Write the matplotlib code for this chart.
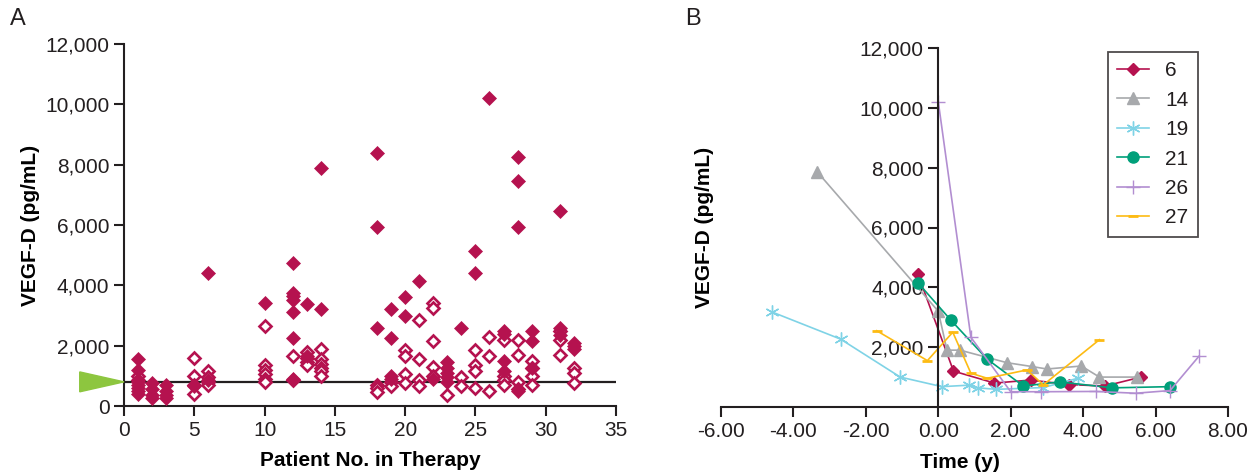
import numpy as np
import matplotlib
matplotlib.use("Agg")
import matplotlib.pyplot as plt
from matplotlib.ticker import FuncFormatter
from matplotlib.patches import Polygon

plt.rcParams['font.family'] = ['Liberation Sans', 'DejaVu Sans']
TEXT = "#231f20"
plt.rcParams['text.color'] = TEXT
plt.rcParams['axes.edgecolor'] = TEXT
plt.rcParams['xtick.color'] = TEXT
plt.rcParams['ytick.color'] = TEXT

# panel A: patient number vs VEGF-D, filled and open diamonds
filled_patient = [1, 1, 1, 1, 1, 1, 1, 2, 2, 2, 2, 3, 3, 3, 3, 5, 6, 6, 10,
                  12, 12, 12, 12, 12, 12, 12, 13, 13, 14, 14, 18, 18, 18,
                  19, 19, 19, 19, 20, 20, 21, 22, 23, 23, 23, 23, 23, 24,
                  25, 25, 26, 27, 27, 27, 27, 28, 28, 28, 28, 29, 29, 29,
                  31, 31, 31, 32, 32, 32]
filled_value = [1550, 1200, 800, 700, 600, 500, 400, 750, 550, 350, 250,
                700, 500, 350, 250, 650, 4400, 850, 3400,
                4750, 3750, 3650, 3500, 3100, 2250, 900, 3380, 1650, 7900, 3220,
                8400, 5950, 2600, 3200, 2250, 1000, 900, 3600, 3000, 4150, 900,
                1450, 1250, 1100, 950, 800, 2600, 5150, 4400, 10200,
                2500, 2400, 1500, 1150, 8250, 7450, 5950, 500, 2500, 2150, 1250,
                6450, 2600, 2350, 2100, 2000, 1900]

open_patient = [1, 1, 5, 5, 5, 5, 6, 6, 6, 6, 10, 10, 10, 10, 10, 10,
                12, 12, 13, 13, 13, 13, 14, 14, 14, 14, 14, 14, 18, 18, 18,
                19, 19, 20, 20, 20, 20, 21, 21, 21, 21, 22, 22, 22, 22, 22,
                23, 24, 24, 25, 25, 25, 25, 26, 26, 26, 27, 27, 27, 27,
                28, 28, 28, 28, 29, 29, 29, 29, 31, 31, 31, 32, 32, 32]
open_value = [1000, 850, 1600, 1000, 700, 400, 1150, 950, 800, 700,
              2650, 1350, 1200, 1050, 900, 800, 1650, 850, 1800, 1600, 1450, 1350,
              1900, 1550, 1400, 1250, 1150, 1000, 700, 600, 450, 800, 650,
              1850, 1650, 1050, 750, 2850, 1550, 850, 650, 3400, 3250, 2150, 1300, 1000,
              350, 950, 650, 1850, 1350, 1150, 600, 2300, 1650, 500,
              2200, 1000, 850, 700, 2200, 1700, 800, 550, 1500, 1250, 1000, 700,
              2500, 2200, 1700, 1250, 1100, 750]

threshold = 800

# panel B: time courses per patient
patients = ["6", "14", "19", "21", "26", "27"]
time_6 = [-0.56, 0.42, 1.55, 2.55, 3.6, 4.6, 5.6]
vegf_6 = [4430, 1200, 800, 900, 750, 700, 1000]
time_14 = [-3.35, 0.0, 0.24, 0.6, 1.9, 2.6, 3.0, 3.95, 4.45, 5.5]
vegf_14 = [7870, 3200, 1900, 1900, 1480, 1350, 1270, 1370, 1000, 1000]
time_19 = [-4.6, -2.7, -1.05, 0.1, 0.85, 1.1, 1.6, 2.9, 3.85]
vegf_19 = [3180, 2270, 1000, 680, 730, 640, 590, 650, 960]
time_21 = [-0.56, 0.35, 1.35, 2.35, 3.35, 4.8, 6.4]
vegf_21 = [4150, 2900, 1600, 700, 840, 640, 680]
time_26 = [0.0, 0.9, 2.0, 2.85, 4.35, 5.45, 6.4, 7.2]
vegf_26 = [10200, 2330, 510, 510, 520, 460, 550, 1700]
time_27 = [-1.7, -0.3, 0.4, 0.9, 1.35, 2.45, 2.9, 4.45]
vegf_27 = [2550, 1550, 2500, 1130, 960, 1240, 740, 2250]

CRIMSON = "#b5124f"

fig = plt.figure(figsize=(12.59, 4.74), dpi=100)
axA = fig.add_axes([124 / 1259, 1 - 406 / 474, 492 / 1259, 362 / 474])
axB = fig.add_axes([721 / 1259, 1 - 407 / 474, 507 / 1259, 359 / 474])

comma = FuncFormatter(lambda v, p: "{:,.0f}".format(v))

# ---- A ----
axA.plot(open_patient, open_value, linestyle="none", marker="D", ms=6.6,
         mfc="white", mec=CRIMSON, mew=1.9, zorder=3)
axA.plot(filled_patient, filled_value, linestyle="none", marker="D", ms=7,
         mfc=CRIMSON, mec=CRIMSON, mew=0.5, zorder=4)
axA.plot([0, 35], [threshold, threshold], color=TEXT, lw=1.6, zorder=2)
tri = Polygon([[-0.09, threshold + 330], [-0.09, threshold - 330], [0, threshold]],
              closed=True, transform=axA.get_yaxis_transform(), clip_on=False,
              color="#8dc63f", zorder=5)
axA.add_patch(tri)

axA.set_xlim(0, 35)
axA.set_ylim(0, 12000)
axA.set_xticks(np.arange(0, 36, 5))
axA.set_yticks(np.arange(0, 12001, 2000))
axA.yaxis.set_major_formatter(comma)
axA.set_xlabel("Patient No. in Therapy", fontsize=15, fontweight="bold")
axA.set_ylabel("VEGF-D (pg/mL)", fontsize=15, fontweight="bold")
axA.xaxis.set_label_coords(0.5, -0.125)
axA.yaxis.set_label_coords(-0.17, 0.5)

# ---- B ----
series = [
    (time_6, vegf_6, CRIMSON, "D", 6.5, 1.0),
    (time_14, vegf_14, "#a7a9ac", "^", 9, 1.0),
    (time_19, vegf_19, "#7fd3e6", (6, 2, 0), 10, 1.0),
    (time_21, vegf_21, "#00a07a", "o", 8, 1.0),
    (time_26, vegf_26, "#b28ed1", "+", 10, 1.0),
    (time_27, vegf_27, "#fdbb13", "_", 7, 2.0),
]
for (t, v, c, m, s, mw), name in zip(series, patients):
    axB.plot(t, v, color=c, lw=1.2, marker=m, ms=s, mfc=c, mec=c, mew=mw,
             label=name, clip_on=False)

axB.set_xlim(-6, 8)
axB.set_ylim(0, 12000)
axB.set_xticks(np.arange(-6, 8.1, 2))
axB.set_yticks(np.arange(2000, 12001, 2000))
axB.xaxis.set_major_formatter(FuncFormatter(lambda v, p: "{:.2f}".format(v)))
axB.yaxis.set_major_formatter(comma)
axB.spines["left"].set_position(("data", 0))
axB.set_xlabel("Time (y)", fontsize=15, fontweight="bold")
axB.set_ylabel("VEGF-D (pg/mL)", fontsize=15, fontweight="bold")
axB.xaxis.set_label_coords(0.471, -0.128)
axB.yaxis.set_label_coords(-0.014, 0.5)

leg = axB.legend(loc="upper left", bbox_to_anchor=(1108 / 1259, 1 - 52 / 474),
                 bbox_transform=fig.transFigure, fontsize=15, frameon=True,
                 fancybox=False, edgecolor=TEXT, borderaxespad=0,
                 handlelength=1.5, labelspacing=0.5, borderpad=0.45,
                 handletextpad=0.8)
leg.get_frame().set_linewidth(1.3)

for ax in (axA, axB):
    ax.spines["top"].set_visible(False)
    ax.spines["right"].set_visible(False)
    ax.spines["left"].set_linewidth(1.5)
    ax.spines["bottom"].set_linewidth(1.5)
    ax.tick_params(labelsize=15, width=1.5, length=7, direction="out")

fig.text(10 / 1259, 1 - 8 / 474, "A", fontsize=17, va="top")
fig.text(685 / 1259, 1 - 8 / 474, "B", fontsize=17, va="top")

fig.savefig("out.png", dpi=100)
